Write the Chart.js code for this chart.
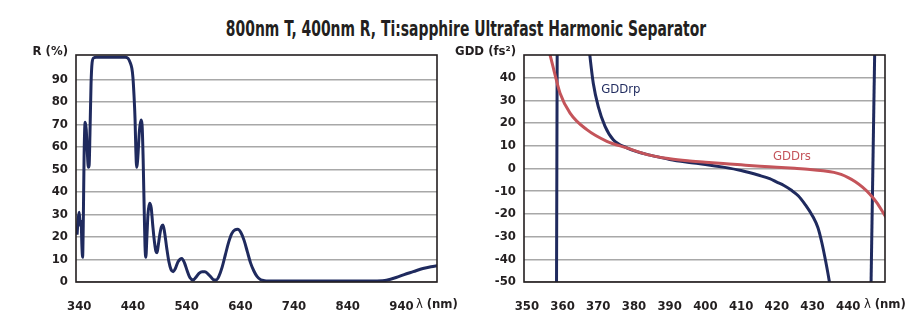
<!DOCTYPE html>
<html>
<head>
<meta charset="utf-8">
<script src="https://cdn.jsdelivr.net/npm/chart.js@4.4.0/dist/chart.umd.min.js"></script>
<style>
  body { margin: 0; background: #ffffff; width: 914px; height: 336px; overflow: hidden; position: relative; }
  #title {
    position: absolute; left: 466px; top: 17px; white-space: nowrap;
    font: bold 22px/24px 'DejaVu Sans Condensed', 'Liberation Sans Narrow', sans-serif;
    color: #231f20; transform-origin: center;
  }
  #left_wrap { position: absolute; left: 0; top: 0; width: 470px; height: 336px; }
  #right_wrap { position: absolute; left: 440px; top: 0; width: 474px; height: 336px; }
</style>
</head>
<body>
<div id="title">800nm T, 400nm R, Ti:sapphire Ultrafast Harmonic Separator</div>
<div id="left_wrap"><canvas id="leftChart"></canvas></div>
<div id="right_wrap"><canvas id="rightChart"></canvas></div>
<script>
const fontName = "'DejaVu Sans Condensed', 'Liberation Sans Narrow', sans-serif";
const textColor = "#231f20";
const navy = "#1f2a5e";
const red = "#c4545a";
const gridColor = "#a8a8a8";

// 左: 反射率 R (%)
const rWave = [336, 338, 340, 342, 343.5, 345, 346.3, 347.5, 349, 351, 353, 355, 357, 358.5, 360, 362, 364, 367, 372, 400,
  426, 431, 435, 438, 440, 442, 444, 445.5, 447, 449, 452, 455, 457, 459, 461, 462.5, 464, 466, 468, 471,
  474, 477, 480, 483, 485, 487, 490, 493, 496, 499, 503, 507, 511, 515, 519, 524, 531, 536, 541, 546,
  552, 557, 563, 569, 574, 580, 586, 590, 595, 600, 606, 612, 618, 624, 630, 635, 641, 647, 653, 659,
  665, 671, 678, 685, 692, 720, 800, 880, 905, 912, 930, 945, 962, 980, 995, 1008];
const rValue = [21, 28, 31, 25, 27, 16, 11, 25, 55, 71, 68, 58, 51, 52, 66, 88, 97.5, 99.6, 99.9, 99.9,
  99.9, 99.4, 97.5, 95, 91, 83, 72, 58, 51, 55, 67, 72, 70, 55, 32, 16, 11, 20, 30, 35,
  33, 25, 18, 13.5, 13, 16, 21, 24.5, 25.3, 22, 15, 9, 5.5, 4.6, 6, 9, 10.5, 8.5, 5, 2,
  0.9, 2, 3.8, 4.6, 4.6, 3.5, 2, 1, 0.9, 2.5, 6.5, 12, 17.5, 21.5, 23.2, 23.4, 22, 18.5, 13.5, 8.5,
  5, 2.5, 1, 0.6, 0.5, 0.5, 0.5, 0.5, 0.6, 0.8, 2, 3.3, 4.6, 6, 6.8, 7.3];
const rXTicks = [340, 440, 540, 640, 740, 840, 940];
const rYTicks = [0, 10, 20, 30, 40, 50, 60, 70, 80, 90];

// 右: GDD (fs²)
const rpPoleLeftWave = [358.3, 358.5];
const rpPoleLeftValue = [-55, 55];
const rpWave = [367.3, 367.7, 368.6, 370, 371.9, 374.2, 378, 381, 384.5, 387, 390, 395, 400, 405, 410,
  415, 418, 420, 422, 424, 426, 428, 430, 431.5, 432.6, 433.7, 434.7, 435.2];
const rpValue = [55, 49, 37.6, 27.3, 18.6, 12.7, 9.1, 7.3, 5.9, 5, 4, 2.8, 1.8, 0.6, -0.9,
  -3, -4.5, -6, -7.5, -9.5, -12, -16, -20.9, -26, -32.6, -41, -49.7, -55];
const rpPoleRightWave = [446.35, 447.45];
const rpPoleRightValue = [-55, 55];
const rsWave = [356.1, 356.5, 357.9, 359.3, 362.1, 366.8, 372.4, 378, 384, 390, 395, 400, 405, 410, 415.3,
  420, 425, 429.3, 433, 436, 438, 440, 442, 444, 446, 448, 450, 451];
const rsValue = [52, 50, 41.2, 33.2, 24.4, 17.1, 12, 9.1, 6, 4.3, 3.4, 2.8, 2.2, 1.6, 1.0,
  0.6, 0.1, -0.4, -1, -1.7, -2.6, -4, -5.8, -8.2, -11.2, -15, -20, -22.5];
const gddXTicks = [350, 360, 370, 380, 390, 400, 410, 420, 430, 440];
const gddYTicks = [-50, -40, -30, -20, -10, 0, 10, 20, 30, 40];

// x/y配列から点データを作る
function toPoints(xs, ys) {
  return xs.map((x, i) => ({ x: x, y: ys[i] }));
}

function lineSet(xs, ys, color) {
  return {
    data: toPoints(xs, ys),
    borderColor: color,
    borderWidth: 3,
    pointRadius: 0,
    fill: false,
    cubicInterpolationMode: "monotone",
  };
}

// 枠線と軸タイトル、系列ラベル
const framePlugin = {
  id: "frame",
  afterDatasetsDraw(chart, args, opts) {
    const ctx = chart.ctx;
    const a = chart.chartArea;
    ctx.save();
    ctx.strokeStyle = textColor;
    ctx.lineWidth = 1.6;
    ctx.strokeRect(a.left, a.top, a.right - a.left, a.bottom - a.top);

    ctx.fillStyle = textColor;
    ctx.textBaseline = "middle";
    ctx.textAlign = "right";
    ctx.font = "bold 13px " + fontName;
    ctx.fillText(opts.yTitle, a.left - 8, a.top - 3);

    // λ (nm)
    ctx.textAlign = "left";
    ctx.font = "13px " + fontName;
    const lx = a.right - 21;
    const ly = a.bottom + 23;
    ctx.fillText("λ", lx, ly);
    const lw = ctx.measureText("λ ").width;
    ctx.font = "bold 13px " + fontName;
    ctx.fillText("(nm)", lx + lw, ly);

    (opts.notes || []).forEach((n) => {
      ctx.fillStyle = n.color;
      ctx.font = "13px " + fontName;
      ctx.fillText(n.text, chart.scales.x.getPixelForValue(n.x), chart.scales.y.getPixelForValue(n.y));
    });
    ctx.restore();
  },
};

function makeOptions(p) {
  return {
    responsive: true,
    maintainAspectRatio: false,
    animation: false,
    layout: { padding: { top: 55, right: p.padRight, left: 0, bottom: 0 } },
    plugins: {
      legend: { display: false },
      tooltip: { enabled: false },
      frame: { yTitle: p.yTitle, notes: p.notes },
    },
    scales: {
      x: {
        type: "linear",
        min: p.xMin,
        max: p.xMax,
        afterBuildTicks: (s) => { s.ticks = p.xTicks.map((v) => ({ value: v })); },
        afterFit: (s) => { s.height = 54; },
        grid: { display: false },
        border: { display: false },
        ticks: {
          color: textColor,
          font: { family: fontName, size: 13, weight: "bold" },
          padding: 9,
          maxRotation: 0,
          autoSkip: false,
        },
      },
      y: {
        type: "linear",
        min: p.yMin,
        max: p.yMax,
        afterBuildTicks: (s) => { s.ticks = p.yTicks.map((v) => ({ value: v })); },
        afterFit: (s) => { s.width = p.yWidth; },
        grid: { color: gridColor, lineWidth: 1.5, drawTicks: false },
        border: { display: false },
        ticks: {
          color: textColor,
          font: { family: fontName, size: 13, weight: "bold" },
          padding: 8,
        },
      },
    },
  };
}

window.onload = function () {
  // タイトル幅を合わせる
  const title = document.getElementById("title");
  const k = 480 / title.offsetWidth;
  title.style.transform = "translateX(-50%) scaleX(" + k + ")";

  new Chart(document.getElementById("leftChart").getContext("2d"), {
    type: "line",
    data: { datasets: [lineSet(rWave, rValue, navy)] },
    options: makeOptions({
      padRight: 33, yWidth: 76,
      xMin: 334, xMax: 1006.2, xTicks: rXTicks,
      yMin: 0, yMax: 100.9, yTicks: rYTicks,
      yTitle: "R (%)",
    }),
    plugins: [framePlugin],
  });

  new Chart(document.getElementById("rightChart").getContext("2d"), {
    type: "line",
    data: {
      datasets: [
        lineSet(rsWave, rsValue, red),
        lineSet(rpPoleLeftWave, rpPoleLeftValue, navy),
        lineSet(rpWave, rpValue, navy),
        lineSet(rpPoleRightWave, rpPoleRightValue, navy),
      ],
    },
    options: makeOptions({
      padRight: 29, yWidth: 84,
      xMin: 349.2, xMax: 450.3, xTicks: gddXTicks,
      yMin: -50, yMax: 50, yTicks: gddYTicks,
      yTitle: "GDD (fs²)",
      notes: [
        { text: "GDDrp", x: 370.8, y: 34.6, color: navy },
        { text: "GDDrs", x: 418.9, y: 5.3, color: red },
      ],
    }),
    plugins: [framePlugin],
  });
};
</script>
</body>
</html>
